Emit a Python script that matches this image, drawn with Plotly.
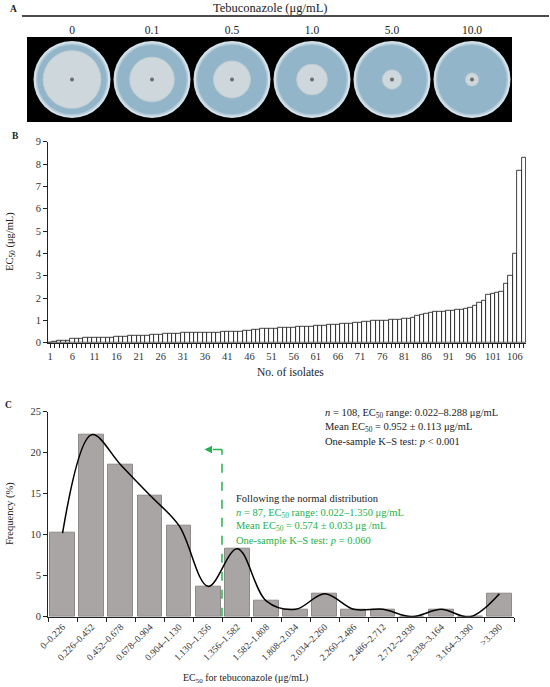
import plotly.graph_objects as go

# ---------------- data ----------------
concentrations = ["0", "0.1", "0.5", "1.0", "5.0", "10.0"]
colony_frac = [0.75, 0.58, 0.48, 0.40, 0.25, 0.17]   # colony diameter / dish diameter

ec50_bin1 = [0.022, 0.05, 0.09, 0.10, 0.11, 0.17, 0.19, 0.20, 0.21, 0.215, 0.22]
ec50_bin2 = [0.23, 0.235, 0.24, 0.245, 0.25, 0.26, 0.29, 0.30, 0.31, 0.32, 0.33, 0.33,
             0.34, 0.35, 0.36, 0.40, 0.41, 0.42, 0.42, 0.43, 0.43, 0.44, 0.44, 0.45]
ec50_bin3 = [0.46, 0.46, 0.47, 0.47, 0.48, 0.48, 0.49, 0.50, 0.51, 0.52,
             0.55, 0.58, 0.60, 0.61, 0.62, 0.63, 0.64, 0.65, 0.66, 0.67]
ec50_bin4 = [0.69, 0.70, 0.71, 0.72, 0.73, 0.74, 0.76, 0.78,
             0.80, 0.81, 0.82, 0.84, 0.85, 0.86, 0.88, 0.90]
ec50_bin5 = [0.95, 0.96, 0.97, 0.97, 0.98, 0.98, 1.02, 1.03, 1.05, 1.07, 1.09, 1.11]
ec50_bin6 = [1.20, 1.26, 1.30, 1.35]
ec50_bin7 = [1.38, 1.40, 1.41, 1.42, 1.45, 1.48, 1.50, 1.52, 1.55]
ec50_tail = [1.65, 1.78, 1.88, 2.15, 2.18, 2.22, 2.30, 2.65, 2.98, 3.99, 7.70, 8.288]
ec50 = ec50_bin1 + ec50_bin2 + ec50_bin3 + ec50_bin4 + ec50_bin5 + ec50_bin6 + ec50_bin7 + ec50_tail
isolates = list(range(1, len(ec50) + 1))
isolate_ticks = isolates[::5]

bin_labels = ["0–0.226", "0.226–0.452", "0.452–0.678", "0.678–0.904", "0.904–1.130",
              "1.130–1.356", "1.356–1.582", "1.582–1.808", "1.808–2.034", "2.034–2.260",
              "2.260–2.486", "2.486–2.712", "2.712–2.938", "2.938–3.164", "3.164–3.390", ">3.390"]
freq_pct = [10.2, 22.2, 18.5, 14.8, 11.1, 3.7, 8.3, 1.9, 0.9, 2.8, 0.9, 0.9, 0.0, 0.9, 0.0, 2.8]

normal_max = 1.350   # upper EC50 of normally distributed subset
bin_lo, bin_w = 1.130, 0.226

# ---------------- helpers ----------------
W, H = 550, 687
def px(x): return x / W
def py(y): return 1 - y / H

FONT = "Liberation Serif"
GREEN = "#22b24c"
TXT = "#222222"

fig = go.Figure()

# ---------------- Panel A ----------------
dish_px = 77
xs = list(range(len(concentrations)))
fig.add_trace(go.Scatter(x=xs, y=[0]*6, mode="markers", xaxis="x", yaxis="y",
                         marker=dict(size=dish_px, color="#d3e2ea", line=dict(width=0)),
                         hoverinfo="skip", showlegend=False))
fig.add_trace(go.Scatter(x=xs, y=[0]*6, mode="markers", xaxis="x", yaxis="y",
                         marker=dict(size=dish_px - 6, color="#92b5ca",
                                     line=dict(width=1.5, color="#b3cad8")),
                         hoverinfo="skip", showlegend=False))
fig.add_trace(go.Scatter(x=xs, y=[0]*6, mode="markers", xaxis="x", yaxis="y",
                         marker=dict(size=[dish_px * f for f in colony_frac], color="#e8e8e4",
                                     line=dict(width=1, color="#d2d5d5")),
                         hoverinfo="skip", showlegend=False))
fig.add_trace(go.Scatter(x=xs, y=[0]*6, mode="markers", xaxis="x", yaxis="y",
                         marker=dict(size=4, color="#6a6a6a"),
                         hoverinfo="skip", showlegend=False))

# ---------------- Panel B ----------------
fig.add_trace(go.Bar(x=isolates, y=ec50, xaxis="x2", yaxis="y2", width=1,
                     marker=dict(color="white", line=dict(color="#111111", width=0.8)),
                     showlegend=False))

# ---------------- Panel C ----------------
fig.add_trace(go.Bar(x=bin_labels, y=freq_pct, xaxis="x3", yaxis="y3", width=0.85,
                     marker=dict(color="#a9a5a4", line=dict(color="#8e8a89", width=1)),
                     showlegend=False))
fig.add_trace(go.Scatter(x=bin_labels, y=freq_pct, xaxis="x3", yaxis="y3", mode="lines",
                         line=dict(color="black", width=1.5, shape="spline", smoothing=1.0),
                         showlegend=False))

xg = (5 - 0.5) + (normal_max - bin_lo) / bin_w   # position of 1.350 on category axis
arrow_y = 20.4
fig.add_shape(type="line", xref="x3", yref="y3", x0=xg, x1=xg, y0=0, y1=arrow_y,
              line=dict(color=GREEN, width=1.5, dash="dash"))
fig.add_shape(type="line", xref="x3", yref="y3", x0=xg, x1=xg - 0.45, y0=arrow_y, y1=arrow_y,
              line=dict(color=GREEN, width=1.5, dash="dash"))
fig.add_annotation(x=xg - 0.6, y=arrow_y, ax=xg - 0.45, ay=arrow_y, xref="x3", yref="y3",
                   axref="x3", ayref="y3", text="", showarrow=True, arrowhead=2,
                   arrowsize=1, arrowwidth=1.5, arrowcolor=GREEN)

# ---------------- shapes / annotations ----------------
fig.add_shape(type="rect", xref="paper", yref="paper", x0=px(27), x1=px(512), y0=py(122), y1=py(37),
              fillcolor="black", line=dict(width=0), layer="below")
fig.add_shape(type="line", xref="paper", yref="paper", x0=px(22), x1=px(549), y0=py(16), y1=py(16),
              line=dict(color="#111111", width=1.5))

def ann(x, y, text, size=10, color=TXT, xanchor="left", angle=0):
    fig.add_annotation(x=px(x), y=py(y), xref="paper", yref="paper", text=text, showarrow=False,
                       xanchor=xanchor, yanchor="middle", textangle=angle,
                       font=dict(family=FONT, size=size, color=color))

ann(8, 9, "<b>A</b>", 9.5)
ann(10, 136, "<b>B</b>", 9.5)
ann(3, 405, "<b>C</b>", 9.5)
ann(270, 8, "Tebuconazole (μg/mL)", 12.5, xanchor="center")
ann(10, 242, "EC<sub>50</sub> (μg/mL)", 10.5, xanchor="center", angle=-90)
ann(290, 372, "No. of isolates", 11.5, xanchor="center")
ann(10, 514, "Frequency (%)", 10.5, xanchor="center", angle=-90)
ann(245, 678, "EC<sub>50</sub> for tebuconazole (μg/mL)", 10, xanchor="center")

ann(323, 413, "<i>n</i> = 108, EC<sub>50</sub> range: 0.022–8.288 μg/mL", 10.5)
ann(323, 427, "Mean EC<sub>50</sub> = 0.952 ± 0.113 μg/mL", 10.5)
ann(323, 441, "One-sample K–S test: <i>p</i> &lt; 0.001", 10.5)
ann(234, 499, "Following the normal distribution", 10.5)
ann(234, 513, "<i>n</i> = 87, EC<sub>50</sub> range: 0.022–1.350 μg/mL", 10.5, GREEN)
ann(234, 526, "Mean EC<sub>50</sub> = 0.574 ± 0.033 μg /mL", 10.5, GREEN)
ann(234, 540, "One-sample K–S test: <i>p</i> = 0.060", 10.5, GREEN)

axis_common = dict(showgrid=False, zeroline=False, linecolor="#222222", tickcolor="#222222",
                   automargin=False,
                   tickfont=dict(family=FONT, size=10.5, color="#333333"))

fig.update_layout(
    width=W, height=H, margin=dict(l=0, r=0, t=0, b=0, autoexpand=False),
    paper_bgcolor="white", plot_bgcolor="rgba(0,0,0,0)",
    font=dict(family=FONT, color=TXT),
    bargap=0,
    xaxis=dict(domain=[px(27), px(512)], range=[-0.5625, 5.5], anchor="y", side="top",
               tickvals=xs, ticktext=concentrations, showline=False, automargin=False,
               showgrid=False, zeroline=False, ticks="",
               tickfont=dict(family=FONT, size=11.5, color="#222222")),
    yaxis=dict(domain=[py(122), py(37)], range=[-1, 1], visible=False, anchor="x",
               automargin=False),
    xaxis2=dict(domain=[px(48), px(526)], range=[0.5, 108.5], anchor="y2",
                tickvals=isolate_ticks, ticktext=[str(i) for i in isolate_ticks],
                minor=dict(tickvals=isolates, ticks="outside", ticklen=4, tickcolor="#222222",
                           showgrid=False),
                ticks="outside", ticklen=4, showline=True, linewidth=1.3, tickangle=0,
                **axis_common),
    yaxis2=dict(domain=[py(342.7), py(141.7)], range=[0, 9], dtick=1, anchor="x2",
                ticks="outside", ticklen=4, showline=True, linewidth=1, **axis_common),
    xaxis3=dict(domain=[px(48), px(514)], range=[-0.5, 15.5], anchor="y3", type="category",
                tickson="boundaries", ticks="outside", ticklen=4, showline=True, linewidth=1,
                tickangle=-45, showgrid=False, zeroline=False, linecolor="#222222",
                tickcolor="#222222", automargin=False,
                tickfont=dict(family=FONT, size=9.5, color="#333333")),
    yaxis3=dict(domain=[py(616.7), py(411.7)], range=[0, 25], dtick=5, anchor="x3",
                ticks="outside", ticklen=4, showline=True, linewidth=1, **axis_common),
)

fig.write_html("out.html", config={"displayModeBar": False},
               post_script="document.body.style.margin='0';")
